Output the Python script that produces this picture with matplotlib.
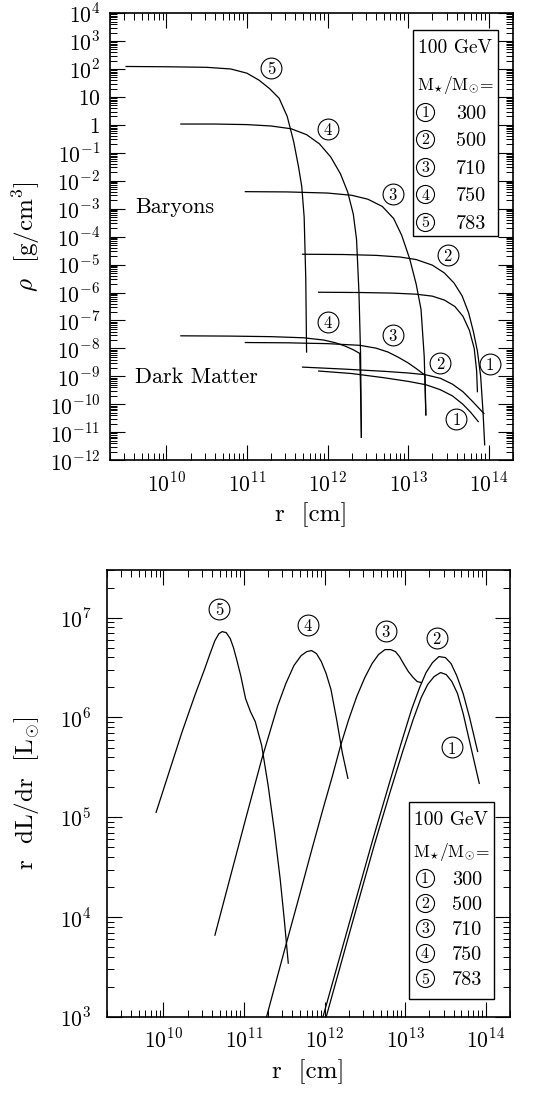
import numpy as np
import matplotlib
matplotlib.use("Agg")
import matplotlib.pyplot as plt
from matplotlib.ticker import LogLocator, NullFormatter
from matplotlib.patches import Rectangle

plt.rcParams["font.family"] = "serif"
plt.rcParams["font.serif"] = ["cmr10", "DejaVu Serif"]
plt.rcParams["mathtext.fontset"] = "cm"
plt.rcParams["axes.formatter.use_mathtext"] = True

# ---- top panel: density profiles, log10 r [cm] / log10 rho [g/cm^3] ----
bar5_r = [9.50, 10.0, 10.5, 10.80, 11.00, 11.15, 11.28, 11.40, 11.50, 11.58, 11.64, 11.68, 11.71, 11.73, 11.74]
bar5_rho = [2.09, 2.08, 2.06, 2.00, 1.85, 1.60, 1.30, 0.95, 0.30, -0.60, -1.50, -2.20, -3.30, -5.5, -8.13]
bar4_r = [10.18, 10.6, 11.0, 11.3, 11.55, 11.74, 11.90, 12.04, 12.16, 12.25, 12.32, 12.36, 12.39, 12.41, 12.42]
bar4_rho = [0.03, 0.03, 0.01, -0.04, -0.14, -0.35, -0.68, -1.15, -1.75, -2.40, -3.20, -4.1, -6.0, -8.2, -11.18]
bar3_r = [10.98, 11.5, 12.0, 12.30, 12.50, 12.68, 12.82, 12.92, 13.02, 13.10, 13.16, 13.20, 13.22]
bar3_rho = [-2.39, -2.40, -2.44, -2.52, -2.66, -2.92, -3.35, -3.95, -4.80, -5.70, -6.60, -8.30, -10.38]
bar2_r = [11.69, 12.2, 12.6, 12.9, 13.1, 13.3, 13.45, 13.57, 13.67, 13.75, 13.81, 13.86, 13.90, 13.93, 13.95]
bar2_rho = [-4.63, -4.64, -4.67, -4.73, -4.82, -5.02, -5.30, -5.66, -6.12, -6.72, -7.40, -8.10, -9.00, -10.30, -11.45]
bar1_r = [11.89, 12.4, 12.8, 13.1, 13.3, 13.45, 13.58, 13.68, 13.76, 13.82, 13.85, 13.86]
bar1_rho = [-5.99, -6.00, -6.02, -6.06, -6.13, -6.27, -6.50, -6.85, -7.35, -8.0, -8.8, -9.55]

dm4_r = [10.18, 10.8, 11.3, 11.7, 11.95, 12.10, 12.22, 12.32, 12.40, 12.41, 12.42]
dm4_rho = [-7.55, -7.56, -7.58, -7.62, -7.70, -7.80, -7.92, -8.05, -8.18, -9.5, -11.18]
dm3_r = [10.98, 11.5, 12.0, 12.4, 12.6, 12.75, 12.88, 13.0, 13.1, 13.21, 13.22]
dm3_rho = [-7.79, -7.80, -7.83, -7.89, -7.99, -8.13, -8.32, -8.52, -8.72, -8.96, -10.38]
dm2_r = [11.69, 12.2, 12.7, 13.0, 13.21, 13.40, 13.55, 13.68, 13.80, 13.94]
dm2_rho = [-8.67, -8.74, -8.82, -8.88, -8.94, -9.07, -9.28, -9.55, -9.90, -10.33]
dm1_r = [11.89, 12.3, 12.7, 13.0, 13.22, 13.40, 13.55, 13.68, 13.78, 13.87]
dm1_rho = [-8.81, -8.90, -9.05, -9.18, -9.30, -9.48, -9.70, -10.0, -10.30, -10.62]

# ---- bottom panel: log10 r [cm] / log10 r dL/dr [L_sun] ----
lum5_r = [9.91, 10.07, 10.23, 10.39, 10.51, 10.58, 10.64, 10.69, 10.73, 10.78, 10.83, 10.87,
          10.91, 10.96, 11.02, 11.08, 11.14, 11.22, 11.30, 11.38, 11.45, 11.50, 11.55]
lum5_L = [5.05, 5.45, 5.85, 6.22, 6.48, 6.64, 6.77, 6.84, 6.86, 6.85, 6.79, 6.70,
          6.58, 6.42, 6.19, 6.06, 5.96, 5.72, 5.32, 4.85, 4.38, 3.98, 3.54]
lum4_r = [10.64, 10.82, 11.02, 11.22, 11.42, 11.52, 11.62, 11.71, 11.78, 11.84, 11.90, 11.96,
          12.02, 12.08, 12.15, 12.22, 12.29]
lum4_L = [3.82, 4.37, 4.98, 5.58, 6.12, 6.34, 6.52, 6.62, 6.66, 6.67, 6.64, 6.56,
          6.44, 6.28, 5.98, 5.65, 5.39]
lum3_r = [11.28, 11.50, 11.70, 11.85, 11.98, 12.10, 12.20, 12.30, 12.40, 12.50, 12.59, 12.67,
          12.75, 12.82, 12.88, 12.93, 12.98, 13.04, 13.10, 13.15, 13.20]
lum3_L = [3.00, 3.66, 4.25, 4.70, 5.08, 5.42, 5.72, 5.98, 6.21, 6.40, 6.54, 6.63,
          6.68, 6.68, 6.66, 6.61, 6.54, 6.46, 6.40, 6.36, 6.35]
lum2_r = [11.98, 12.30, 12.60, 12.80, 12.95, 13.08, 13.18, 13.26, 13.34, 13.42, 13.50, 13.57,
          13.64, 13.72, 13.80, 13.90]
lum2_L = [3.0, 3.92, 4.78, 5.33, 5.74, 6.08, 6.30, 6.45, 6.55, 6.61, 6.60, 6.54,
          6.42, 6.24, 6.00, 5.66]
lum1_r = [12.02, 12.33, 12.62, 12.82, 12.97, 13.10, 13.20, 13.28, 13.36, 13.44, 13.51, 13.58,
          13.65, 13.72, 13.80, 13.92]
lum1_L = [3.0, 3.90, 4.73, 5.27, 5.66, 5.98, 6.20, 6.33, 6.41, 6.45, 6.43, 6.36,
          6.24, 6.04, 5.76, 5.34]

masses = ["300", "500", "710", "750", "783"]
x_ticks = [1e10, 1e11, 1e12, 1e13, 1e14]
x_ticklabels = [r"$10^{10}$", r"$10^{11}$", r"$10^{12}$", r"$10^{13}$", r"$10^{14}$"]
rho_ticks = [10.0 ** k for k in range(4, -13, -1)]
rho_ticklabels = [r"$10^{4}$", r"$10^{3}$", r"$10^{2}$", r"$10$", r"$1$"] + \
    [r"$10^{-%d}$" % k for k in range(1, 13)]
lum_ticks = [1e3, 1e4, 1e5, 1e6, 1e7]
lum_ticklabels = [r"$10^{3}$", r"$10^{4}$", r"$10^{5}$", r"$10^{6}$", r"$10^{7}$"]

LW = 0.9
FS = 15.5      # tick labels
LAB = 18       # axis labels


def curve(ax, lr, lv):
    ax.plot(10.0 ** np.asarray(lr), 10.0 ** np.asarray(lv), color="k", lw=LW)


def circ(ax, x, y, n, transform=None, ms=15, fs=12):
    tr = transform if transform is not None else ax.transData
    ax.plot([x], [y], "o", ms=ms, mfc="none", mec="k", mew=0.8,
            transform=tr, clip_on=False)
    ax.text(x, y, str(n), ha="center", va="center_baseline", fontsize=fs,
            transform=tr)


def style_axes(ax, yt, ytl):
    ax.set_xscale("log")
    ax.set_yscale("log")
    ax.set_xlim(2e9, 2e14)
    ax.set_xticks(x_ticks, x_ticklabels)
    ax.set_yticks(yt, ytl)
    ax.xaxis.set_minor_locator(LogLocator(base=10, subs=np.arange(2, 10), numticks=100))
    ax.yaxis.set_minor_locator(LogLocator(base=10, subs=np.arange(2, 10), numticks=100))
    ax.xaxis.set_minor_formatter(NullFormatter())
    ax.yaxis.set_minor_formatter(NullFormatter())
    ax.tick_params(which="both", direction="in", top=True, right=True, labelsize=FS)
    ax.tick_params(which="major", length=11, width=0.8)
    ax.tick_params(which="minor", length=5, width=0.7)
    ax.tick_params(axis="x", pad=8)
    for s in ax.spines.values():
        s.set_linewidth(1.2)


def legend_box(ax, x0, y0, x1, y1, rows_y, head_y, mass_y, cx, vx):
    ax.add_patch(Rectangle((x0, y0), x1 - x0, y1 - y0, transform=ax.transAxes,
                           fill=False, lw=1.0, ec="k", zorder=5))
    xm = (x0 + x1) / 2
    ax.text(xm, head_y, "100 GeV", transform=ax.transAxes, ha="center",
            va="center", fontsize=14)
    ax.text(xm, mass_y, r"M$_{\star}$/M$_{\odot}$=",
            transform=ax.transAxes, ha="center", va="center", fontsize=12.5)
    for i, (yy, m) in enumerate(zip(rows_y, masses)):
        circ(ax, cx, yy, i + 1, transform=ax.transAxes, ms=13, fs=11.5)
        ax.text(vx, yy, m, transform=ax.transAxes, ha="center",
                va="center_baseline", fontsize=14.5)


fig = plt.figure(figsize=(5.46, 10.93), dpi=100)

# ---------------- top panel ----------------
ax1 = fig.add_axes([0.2015, 0.579, 0.738, 0.409])
for lr, lv in [(bar5_r, bar5_rho), (bar4_r, bar4_rho), (bar3_r, bar3_rho),
               (bar2_r, bar2_rho), (bar1_r, bar1_rho),
               (dm4_r, dm4_rho), (dm3_r, dm3_rho), (dm2_r, dm2_rho), (dm1_r, dm1_rho)]:
    curve(ax1, lr, lv)
style_axes(ax1, rho_ticks, rho_ticklabels)
ax1.set_ylim(1e-12, 1e4)
ax1.tick_params(axis="y", pad=7)

for n, lx, ly in [(5, 11.30, 2.03), (4, 12.00, -0.13), (3, 12.81, -2.46),
                  (2, 13.49, -4.66), (1, 14.01, -8.55),
                  (4, 12.00, -7.05), (3, 12.81, -7.53), (2, 13.40, -8.51),
                  (1, 13.60, -10.52)]:
    circ(ax1, 10 ** lx, 10 ** ly, n)

ax1.text(10 ** 9.61, 10 ** -2.96, "Baryons", fontsize=16, va="center")
ax1.text(10 ** 9.61, 10 ** -9.02, "Dark Matter", fontsize=16, va="center")

legend_box(ax1, 0.752, 0.501, 0.963, 0.962,
           [0.779, 0.719, 0.656, 0.595, 0.533], 0.922, 0.839, 0.782, 0.896)

ax1.set_xlabel("r  [cm]", fontsize=LAB)
ax1.xaxis.set_label_coords(0.5, -0.095)
ax1.set_ylabel(r"$\rho$  [g/cm$^3$]", fontsize=LAB)
ax1.yaxis.set_label_coords(-0.17, 0.5)

# ---------------- bottom panel ----------------
ax2 = fig.add_axes([0.196, 0.0695, 0.738, 0.409])
for lr, lv in [(lum5_r, lum5_L), (lum4_r, lum4_L), (lum3_r, lum3_L),
               (lum2_r, lum2_L), (lum1_r, lum1_L)]:
    curve(ax2, lr, lv)
style_axes(ax2, lum_ticks, lum_ticklabels)
ax2.set_ylim(1e3, 3e7)
ax2.tick_params(axis="y", pad=11)

for n, lx, ly in [(5, 10.69, 7.09), (4, 11.79, 6.93), (3, 12.76, 6.87),
                  (2, 13.39, 6.80), (1, 13.58, 5.70)]:
    circ(ax2, 10 ** lx, 10 ** ly, n)

legend_box(ax2, 0.749, 0.040, 0.960, 0.481,
           [0.311, 0.255, 0.199, 0.143, 0.087], 0.441, 0.369, 0.789, 0.893)

ax2.set_xlabel("r  [cm]", fontsize=LAB)
ax2.xaxis.set_label_coords(0.5, -0.095)
ax2.set_ylabel(r"r  dL/dr  [L$_{\odot}$]", fontsize=LAB)
ax2.yaxis.set_label_coords(-0.162, 0.5)

fig.savefig("out.png", dpi=100)
